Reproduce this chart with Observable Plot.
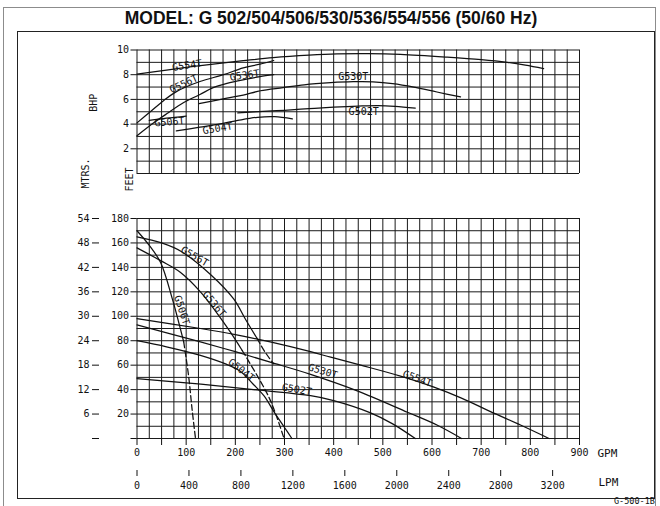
<!DOCTYPE html>
<html>
<head>
<meta charset="utf-8">
<script src="https://cdn.jsdelivr.net/npm/d3@7"></script>
<script src="https://cdn.jsdelivr.net/npm/@observablehq/plot@0.6"></script>
<style>
  html, body { margin: 0; padding: 0; background: #fff; overflow: hidden; }
  #wrap { position: relative; width: 660px; height: 506px; overflow: hidden; background: #fff; }
  #wrap .layer { position: absolute; left: 0; top: 0; width: 660px; height: 506px; }
  #outer { position: absolute; left: 3px; top: 7px; width: 653px; height: 520px; border: 1px solid #8c8c8c; box-sizing: border-box; }
  #inner { position: absolute; left: 17px; top: 31px; width: 638px; height: 468px; border: 1px solid #222; box-sizing: border-box; }
  #title { position: absolute; left: 0; top: 8px; width: 662px; text-align: center; font-family: "Liberation Sans", Arial, sans-serif; font-weight: bold; font-size: 17.5px; color: #111; }
  #code { position: absolute; left: 614px; top: 497px; font-family: "DejaVu Sans Mono", monospace; font-size: 8.5px; line-height: 9px; color: #111; }
</style>
</head>
<body>
<div id="wrap">
  <div id="outer"></div>
  <div id="inner"></div>
  <div id="title">MODEL: G 502/504/506/530/536/554/556 (50/60 Hz)</div>
  <div id="code">G-500-1B</div>
</div>
<script>
// ---------- data ----------
const models = ["G502T", "G504T", "G506T", "G530T", "G536T", "G554T", "G556T"];

// Head (feet) vs flow (GPM); solid part of each curve
const headG502T = [[0,49],[130,44.5],[250,39.5],[353,35],[400,31],[475,21],[520,12],[566,0]];
const headG504T = [[0,80],[60,75],[129,68],[180,61],[210,55],[235,45],[258,35],[280,21],[300,9],[315,0]];
const headG506T = [[0,170],[25,158],[48,144],[72,114],[95,79]];
const headG530T = [[0,93],[129,79],[200,71],[271,62.5],[353,52.5],[448,39],[550,21.5],[610,11],[660,0]];
const headG536T = [[0,156],[48,145.5],[88,136],[129,120],[160,104],[190,87],[214,72]];
const headG554T = [[0,98],[129,90],[200,85],[271,79],[353,71],[394,66.5],[455,60],[536,51],[604,42],[660,33],[719,22],[780,11],[838,0]];
const headG556T = [[0,165],[50,160],[90,153],[150,134],[197,114],[220,98],[244,82]];
// dashed continuations
const headG506TDashed = [[95,79],[105,51],[112,24],[119,0]];
const headG536TDashed = [[214,72],[248,49],[268,34],[284,18],[299,0]];
const headG556TDashed = [[244,82],[260,71],[278,61]];

// Brake horsepower vs flow (GPM)
const bhpG502T = [[205,4.9],[265,5.05],[300,5.12],[350,5.25],[400,5.37],[450,5.46],[490,5.5],[525,5.44],[566,5.3]];
const bhpG504T = [[80,3.45],[128,3.75],[160,3.95],[205,4.3],[245,4.55],[280,4.6],[316,4.42]];
const bhpG506T = [[25,4.3],[60,4.48],[100,4.65]];
const bhpG530T = [[126,5.65],[183,6.1],[216,6.35],[251,6.7],[297,6.95],[340,7.18],[394,7.35],[440,7.43],[480,7.42],[520,7.28],[563,7.0],[610,6.6],[658,6.2]];
const bhpG536T = [[0,3.05],[34,4.1],[61,4.85],[95,5.75],[128,6.4],[155,6.95],[183,7.3],[220,7.62],[250,7.84],[278,8.0]];
const bhpG554T = [[0,8.05],[60,8.38],[142,8.8],[216,9.13],[277,9.38],[350,9.58],[407,9.68],[470,9.7],[536,9.64],[631,9.42],[700,9.22],[753,9.0],[790,8.78],[827,8.5]];
const bhpG556T = [[0,4.1],[27,5.0],[54,5.9],[81,6.65],[128,7.45],[176,8.0],[216,8.55],[250,8.85],[278,9.15]];

// curve labels
const headLabelModel = ["G556T", "G536T", "G506T", "G504T", "G530T", "G502T", "G554T"];
const headLabelGpm   = [117, 157, 91, 212, 378, 325, 570];
const headLabelFt    = [149, 110, 105, 56, 55, 40, 49];
const headLabelAngle = [30, 50, 72, 38, 17, 10, 20];

const bhpLabelModel = ["G554T", "G556T", "G536T", "G506T", "G504T", "G530T", "G502T"];
const bhpLabelGpm   = [102, 95, 219, 66, 164, 440, 461];
const bhpLabelVal   = [8.75, 7.25, 7.94, 4.17, 3.64, 7.8, 4.98];
const bhpLabelAngle = [-9, -25, -8, -5, -10, 0, 0];

// axes
const gpmDomain = [0, 900];
const lpmPerGpm = 3.7854;
const bhpDomain = [0, 10];
const feetDomain = [0, 180];
const mtrsDomain = [0, 54];
const gpmGrid = [0,25,50,75,100,125,150,175,200,225,250,275,300,325,350,375,400,425,450,475,500,525,550,575,600,625,650,675,700,725,750,775,800,825,850,875,900];
const gpmTicks = [0,50,100,150,200,250,300,350,400,450,500,550,600,650,700,750,800,850,900];
const bhpGrid = [0,1,2,3,4,5,6,7,8,9,10];
const bhpTicks = [2,4,6,8,10];
const feetGrid = [0,10,20,30,40,50,60,70,80,90,100,110,120,130,140,150,160,170,180];
const feetTicks = [0,20,40,60,80,100,120,140,160,180];
const mtrsTicks = [0,6,12,18,24,30,36,42,48,54];
const lpmTicks = [0,400,800,1200,1600,2000,2400,2800,3200];

// ---------- tables ----------
function rows(model, pts, kind) {
  return pts.map(([g, v]) => ({model, seg: model + "-" + kind, gpm: g, value: v}));
}
const headSolid = [
  ...rows("G502T", headG502T, "s"), ...rows("G504T", headG504T, "s"), ...rows("G506T", headG506T, "s"),
  ...rows("G530T", headG530T, "s"), ...rows("G536T", headG536T, "s"), ...rows("G554T", headG554T, "s"),
  ...rows("G556T", headG556T, "s")
];
const headDashed = [
  ...rows("G506T", headG506TDashed, "d"), ...rows("G536T", headG536TDashed, "d"), ...rows("G556T", headG556TDashed, "d")
];
const bhpRows = [
  ...rows("G502T", bhpG502T, "s"), ...rows("G504T", bhpG504T, "s"), ...rows("G506T", bhpG506T, "s"),
  ...rows("G530T", bhpG530T, "s"), ...rows("G536T", bhpG536T, "s"), ...rows("G554T", bhpG554T, "s"),
  ...rows("G556T", bhpG556T, "s")
];
const headLabels = headLabelModel.map((m, i) => ({model: m, gpm: headLabelGpm[i], value: headLabelFt[i], angle: headLabelAngle[i]}));
const bhpLabels = bhpLabelModel.map((m, i) => ({model: m, gpm: bhpLabelGpm[i], value: bhpLabelVal[i], angle: bhpLabelAngle[i]}));

// ---------- layout ----------
const W = 660, H = 506;
const gridLeft = 136.5, gridRight = 81;
const mono = "DejaVu Sans Mono, monospace";
const baseStyle = {fontFamily: mono, fontSize: "10px", background: "transparent", overflow: "visible", color: "#111"};
const lineStyle = {stroke: "#111", strokeWidth: 1.25, curve: "catmull-rom"};
const gridStyle = {stroke: "#1a1a1a", strokeOpacity: 1, strokeWidth: 1};

function place(svg) {
  const d = document.createElement("div");
  d.className = "layer";
  d.appendChild(svg);
  document.getElementById("wrap").appendChild(d);
}

// Top panel: BHP
place(Plot.plot({
  width: W, height: H,
  marginLeft: gridLeft, marginRight: gridRight, marginTop: 49.5, marginBottom: 333,
  style: baseStyle,
  x: {domain: gpmDomain, axis: null},
  y: {domain: bhpDomain},
  marks: [
    Plot.gridX({ticks: gpmGrid, ...gridStyle}),
    Plot.gridY({ticks: bhpGrid, ...gridStyle}),
    Plot.axisY({ticks: bhpTicks, tickSize: 6, tickPadding: 2, label: null, fontSize: 10}),
    Plot.line(bhpRows, {x: "gpm", y: "value", z: "seg", ...lineStyle}),
    Plot.text(bhpLabels, {x: "gpm", y: "value", text: "model", rotate: "angle", fontSize: 10, fill: "#111"}),
    Plot.text(["BHP"], {text: d => d, frameAnchor: "left", dx: -43, rotate: -90, fontSize: 10, fill: "#111"})
  ]
}));

// Bottom panel: head in feet
place(Plot.plot({
  width: W, height: H,
  marginLeft: gridLeft, marginRight: gridRight, marginTop: 218, marginBottom: 68,
  style: baseStyle,
  x: {domain: gpmDomain},
  y: {domain: feetDomain},
  marks: [
    Plot.gridX({ticks: gpmGrid, ...gridStyle}),
    Plot.gridY({ticks: feetGrid, ...gridStyle}),
    Plot.axisY({ticks: feetTicks, tickSize: 6, tickPadding: 2, label: null, tickFormat: d => d === 0 ? "" : String(d), fontSize: 10}),
    Plot.axisX({ticks: gpmTicks, tickSize: 7, tickPadding: 3, label: null, tickFormat: d => d % 100 === 0 ? String(d) : "", fontSize: 10}),
    Plot.line(headSolid, {x: "gpm", y: "value", z: "seg", ...lineStyle}),
    Plot.line(headDashed, {x: "gpm", y: "value", z: "seg", ...lineStyle, strokeDasharray: "6,3"}),
    Plot.text(headLabels, {x: "gpm", y: "value", text: "model", rotate: "angle", fontSize: 10, fill: "#111"}),
    Plot.text(["FEET"], {text: d => d, frameAnchor: "top-left", dx: -11.5, dy: -27, rotate: -90, fontSize: 10, fill: "#111"}),
    Plot.text(["GPM"], {text: d => d, frameAnchor: "bottom-right", dx: 18, dy: 18, textAnchor: "start", fontSize: 11, fill: "#111"})
  ]
}));

// Metres axis (left)
place(Plot.plot({
  width: W, height: H,
  marginLeft: 99, marginRight: 560, marginTop: 218, marginBottom: 68,
  style: baseStyle,
  y: {domain: mtrsDomain},
  marks: [
    Plot.axisY({ticks: mtrsTicks, tickSize: 7, tickPadding: 3, label: null, tickFormat: d => d === 0 ? "" : String(d), fontSize: 10}),
    Plot.ruleX({length: 1}, {y1: () => mtrsDomain[1], y2: () => -mtrsDomain[1] * 12 / 220, stroke: "#111", strokeWidth: 1}),
    Plot.text(["MTRS."], {text: d => d, frameAnchor: "top-left", dx: -17.5, dy: -30, rotate: -90, fontSize: 10, fill: "#111"})
  ]
}));

// LPM axis (bottom)
place(Plot.plot({
  width: W, height: H,
  marginLeft: gridLeft, marginRight: gridRight, marginTop: 469.5, marginBottom: 36,
  style: baseStyle,
  x: {domain: [gpmDomain[0] * lpmPerGpm, gpmDomain[1] * lpmPerGpm]},
  marks: [
    Plot.ruleY({length: 1}, {x1: () => -6.5 / 442.5 * gpmDomain[1] * lpmPerGpm, x2: () => gpmDomain[1] * lpmPerGpm, stroke: "#111", strokeWidth: 1}),
    Plot.axisX({ticks: lpmTicks, tickSize: 6, tickPadding: 5, label: null, tickFormat: d => String(d), fontSize: 10}),
    Plot.text(["LPM"], {text: d => d, frameAnchor: "bottom-right", dx: 19, dy: 15, textAnchor: "start", fontSize: 11, fill: "#111"})
  ]
}));
</script>
</body>
</html>
